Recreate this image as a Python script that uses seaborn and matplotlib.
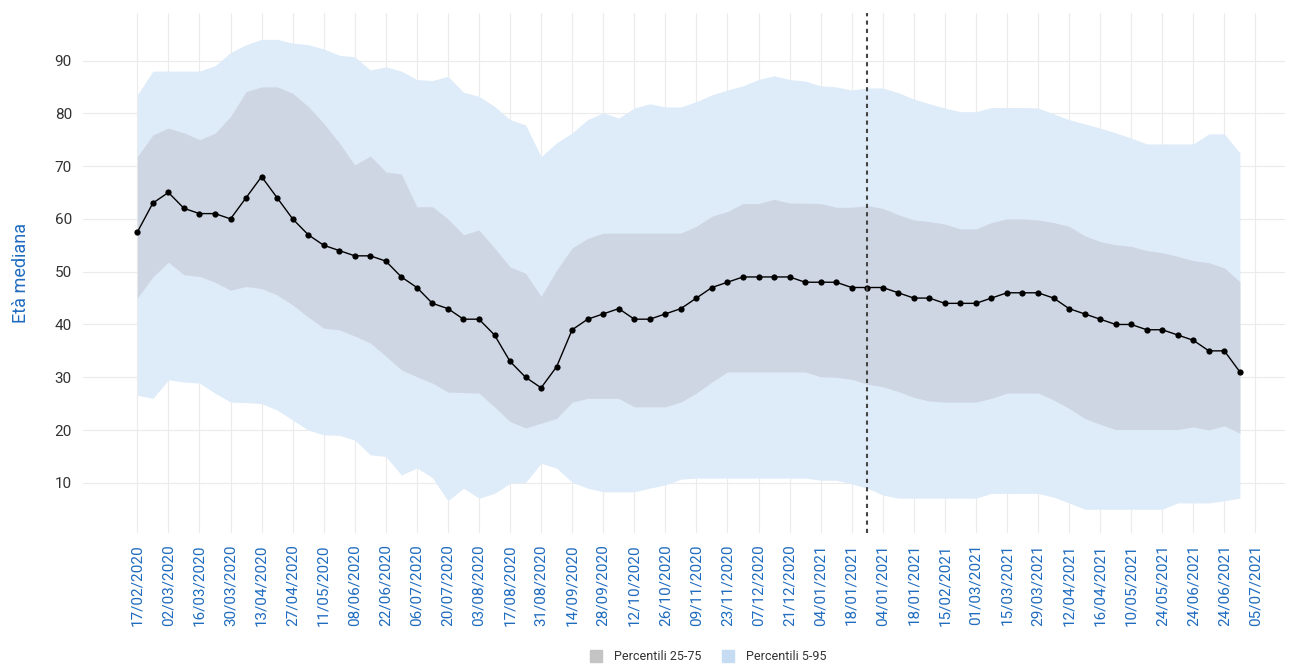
import numpy as np
import pandas as pd
import matplotlib
matplotlib.use("Agg")
import matplotlib.pyplot as plt
from matplotlib.lines import Line2D
import seaborn as sns

# Dati (settimane)
mediana = [57.5, 63, 65, 62, 61, 61, 60, 64, 68, 64, 60, 57, 55, 54, 53, 53, 52, 49, 47, 44,
           43, 41, 41, 38, 33, 30, 28, 32, 39, 41, 42, 43, 41, 41, 42, 43, 45, 47, 48, 49,
           49, 49, 49, 48, 48, 48, 47, 47, 47, 46, 45, 45, 44, 44, 44, 45, 46, 46, 46, 45,
           43, 42, 41, 40, 40, 39, 39, 38, 37, 35, 35, 31]
p95 = [83.5, 88, 88, 88, 88, 89, 91.5, 93, 94, 94, 93.3, 93, 92.2, 91, 90.7, 88.2, 88.8, 88, 86.4, 86.2,
       87, 84, 83.2, 81.3, 78.8, 77.8, 71.8, 74.4, 76.3, 78.8, 80.1, 79.1, 81, 81.8, 81.2, 81.2, 82.2, 83.5, 84.4, 85.2,
       86.4, 87.1, 86.4, 86.1, 85.2, 85, 84.4, 84.8, 84.8, 83.9, 82.7, 81.8, 81, 80.3, 80.3, 81.1, 81.1, 81.1, 81, 79.9,
       78.8, 78, 77.2, 76.3, 75.3, 74.2, 74.2, 74.2, 74.2, 76.1, 76.1, 72.5]
p75 = [71.8, 75.9, 77.2, 76.3, 75, 76.2, 79.4, 84.1, 85, 85, 83.8, 81.3, 78.1, 74.4, 70.2, 71.9, 68.9, 68.5, 62.3, 62.3,
       60, 57, 57.9, 54.5, 50.9, 49.7, 45.3, 50.3, 54.5, 56.3, 57.3, 57.3, 57.3, 57.3, 57.3, 57.3, 58.6, 60.5, 61.4, 62.9,
       62.9, 63.7, 63, 63, 62.9, 62.2, 62.2, 62.5, 62, 60.8, 59.8, 59.5, 59, 58.1, 58.1, 59.3, 60, 60, 59.8, 59.3,
       58.6, 56.8, 55.7, 55.1, 54.8, 54, 53.6, 52.9, 52.1, 51.7, 50.7, 48.1]
p25 = [45, 49, 51.8, 49.4, 49.1, 48, 46.5, 47.2, 46.8, 45.6, 43.7, 41.4, 39.3, 39, 37.8, 36.5, 34, 31.4, 30.1, 28.9,
       27.2, 27.1, 27, 24.4, 21.6, 20.4, 21.3, 22.2, 25.3, 26, 26, 26, 24.4, 24.4, 24.4, 25.3, 27, 29.1, 31, 31,
       31, 31, 31, 31, 30.1, 30, 29.6, 28.7, 28.2, 27.3, 26.2, 25.5, 25.3, 25.3, 25.3, 26, 27, 27, 27, 25.7,
       24.1, 22.2, 21.1, 20.1, 20.1, 20.1, 20.1, 20.1, 20.6, 20, 20.8, 19.4]
p5 = [26.6, 26, 29.5, 29.1, 28.9, 27, 25.3, 25.2, 25, 23.8, 21.9, 20, 19.1, 19, 18.1, 15.3, 15, 11.5, 12.8, 11,
      6.6, 9, 7.1, 8, 9.9, 10.1, 13.7, 12.8, 10.1, 9, 8.3, 8.3, 8.3, 9, 9.6, 10.7, 10.9, 10.9, 10.9, 10.9,
      10.9, 10.9, 10.9, 10.9, 10.5, 10.5, 9.8, 9, 7.7, 7.1, 7.1, 7.1, 7.1, 7.1, 7.1, 8, 8, 8, 8, 7.3,
      6.2, 5, 5, 5, 5, 5, 5, 6.2, 6.2, 6.2, 6.6, 7.1]

etichette = ["17/02/2020", "02/03/2020", "16/03/2020", "30/03/2020", "13/04/2020", "27/04/2020",
             "11/05/2020", "08/06/2020", "22/06/2020", "06/07/2020", "20/07/2020", "03/08/2020",
             "17/08/2020", "31/08/2020", "14/09/2020", "28/09/2020", "12/10/2020", "26/10/2020",
             "09/11/2020", "23/11/2020", "07/12/2020", "21/12/2020", "04/01/2021", "18/01/2021",
             "04/01/2021", "18/01/2021", "15/02/2021", "01/03/2021", "15/03/2021", "29/03/2021",
             "12/04/2021", "16/04/2021", "10/05/2021", "24/05/2021", "24/06/2021", "24/06/2021",
             "05/07/2021"]
linea_verticale = 47  # settimana della linea tratteggiata

BLU = "#1f6bbf"
df = pd.DataFrame({"settimana": np.arange(len(mediana)), "mediana": mediana,
                   "p5": p5, "p25": p25, "p75": p75, "p95": p95})

sns.set_theme(style="whitegrid")
plt.rcParams['font.family'] = ['Roboto', 'DejaVu Sans']

fig = plt.figure(figsize=(12.91, 6.66), dpi=100)
ax = fig.add_axes([0.0643, 0.1997, 0.931, 0.7808])

ax.fill_between(df["settimana"], df["p5"], df["p95"], color="#deebf9", linewidth=0, zorder=1)
ax.fill_between(df["settimana"], df["p25"], df["p75"], color="#cfd6e3", linewidth=0, zorder=2)
sns.lineplot(data=df, x="settimana", y="mediana", ax=ax, color="black", linewidth=1,
             marker="o", markersize=4.5, markeredgewidth=0, zorder=4)
ax.axvline(linea_verticale, color="#444444", linestyle=(0, (2, 2)), linewidth=1.5, zorder=5)

ax.set_xlim(-3.5, 73.9)
ax.set_ylim(0.5, 99)
ax.set_xticks(np.arange(0, 2 * len(etichette), 2))
ax.set_xticklabels(etichette, rotation=90, color=BLU, fontsize=11)
ax.set_yticks(range(10, 100, 10))
ax.tick_params(axis="y", labelsize=11, labelcolor="#333333", length=0, pad=8)
ax.tick_params(axis="x", length=0, pad=8)
ax.grid(True, color="#ebebeb", linewidth=0.8)
for s in ax.spines.values():
    s.set_visible(False)
ax.set_xlabel("")
ax.set_ylabel("Età mediana", color=BLU, fontsize=13, labelpad=18)

handles = [Line2D([], [], marker="s", linestyle="none", markersize=8, color="#c4c4c4"),
           Line2D([], [], marker="s", linestyle="none", markersize=8, color="#c6dcf3")]
fig.legend(handles, ["Percentili 25-75", "Percentili 5-95"], loc="center",
           bbox_to_anchor=(705 / 1291, 1 - 657 / 666), ncol=2, frameon=False,
           fontsize=9, handletextpad=0.4, columnspacing=1.2, labelcolor="#333333")

fig.savefig("out.png", dpi=100)
